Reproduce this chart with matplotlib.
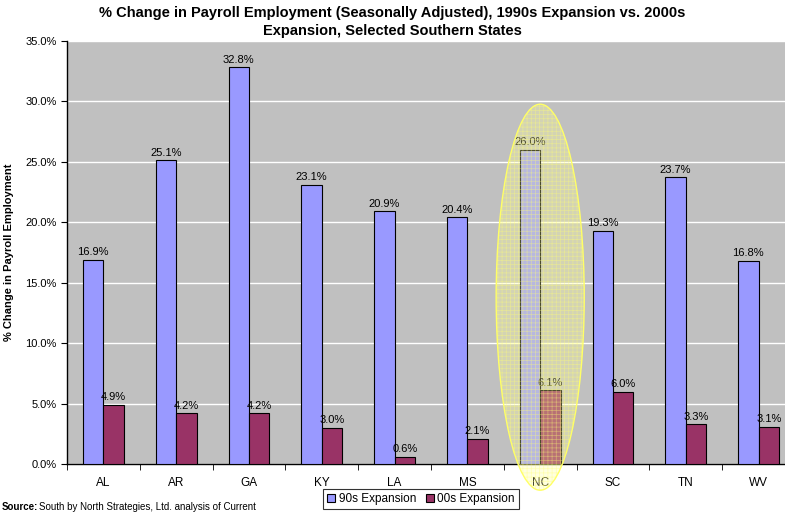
import matplotlib
matplotlib.use('Agg')
import matplotlib.pyplot as plt
import numpy as np
from matplotlib.patches import Ellipse
from matplotlib.ticker import FuncFormatter, MultipleLocator

states = ['AL', 'AR', 'GA', 'KY', 'LA', 'MS', 'NC', 'SC', 'TN', 'WV']
exp_90s = [16.9, 25.1, 32.8, 23.1, 20.9, 20.4, 26.0, 19.3, 23.7, 16.8]
exp_00s = [4.9, 4.2, 4.2, 3.0, 0.6, 2.1, 6.1, 6.0, 3.3, 3.1]
highlight = 'NC'

plt.rcParams['font.family'] = ['Liberation Sans', 'DejaVu Sans']
plt.rcParams['hatch.linewidth'] = 0.5

fig = plt.figure(figsize=(7.85, 5.13), dpi=100)
ax = fig.add_axes([0.0854, 0.0951, 0.9273, 0.8256])
ax.set_facecolor('#C0C0C0')

x = np.arange(len(states))
w = 0.28
b1 = ax.bar(x - w / 2, exp_90s, w, color='#9999FF', edgecolor='black', linewidth=0.8,
            label='90s Expansion', zorder=3)
b2 = ax.bar(x + w / 2, exp_00s, w, color='#993366', edgecolor='black', linewidth=0.8,
            label='00s Expansion', zorder=3)

for bars, vals in ((b1, exp_90s), (b2, exp_00s)):
    for r, v in zip(bars, vals):
        ax.annotate(f'{v:.1f}%', (r.get_x() + r.get_width() / 2, v), xytext=(0, 2),
                    textcoords='offset points', ha='center', va='bottom',
                    fontsize=8, zorder=5)

# highlight ellipse around NC: tint, hatch and outline as separate patches
i = states.index(highlight)
ec, ew, eh = (i, 13.8), 1.21, 31.9
ax.add_patch(Ellipse(ec, ew, eh, facecolor=(1, 1, 0.6, 0.3), edgecolor='none',
                     zorder=6, clip_on=False))
ax.add_patch(Ellipse(ec, ew, eh, facecolor='none', edgecolor=(1, 1, 0.45, 0.45),
                     hatch='++++', linewidth=0, zorder=6, clip_on=False))
ax.add_patch(Ellipse(ec, ew, eh, facecolor='none', edgecolor='#FFFF66',
                     linewidth=1, zorder=6, clip_on=False))

ax.set_xlim(-0.5, len(states) - 0.5)
ax.set_ylim(0, 35)
ax.yaxis.set_major_locator(MultipleLocator(5))
ax.yaxis.set_major_formatter(FuncFormatter(lambda v, p: f'{v:.1f}%'))
ax.grid(axis='y', color='white', linewidth=1, zorder=0)
ax.set_axisbelow(True)

ax.set_xticks(x)
ax.set_xticklabels(states, fontsize=8.5)
ax.set_xticks(np.arange(len(states) + 1) - 0.5, minor=True)
ax.tick_params(axis='x', which='major', length=0, pad=9)
ax.tick_params(axis='x', which='minor', length=4, direction='out')
ax.tick_params(axis='y', labelsize=8, length=4, direction='out')

for s in ('top', 'right'):
    ax.spines[s].set_visible(False)
ax.spines['left'].set_linewidth(1)
ax.spines['bottom'].set_linewidth(1)

ax.set_ylabel('% Change in Payroll Employment', fontsize=8, fontweight='bold', labelpad=8)

fig.suptitle('% Change in Payroll Employment (Seasonally Adjusted), 1990s Expansion vs. 2000s\n'
             'Expansion, Selected Southern States', x=0.5, y=0.988, fontsize=10.5,
             fontweight='bold', linespacing=1.35)

leg = fig.legend(handles=[b1, b2], loc='center', bbox_to_anchor=(421 / 785, 1 - 499 / 513),
                 ncol=2, fontsize=8.5, frameon=True, fancybox=False, edgecolor='black',
                 handlelength=0.7, handleheight=0.7, handletextpad=0.3, columnspacing=0.8,
                 borderpad=0.3, borderaxespad=0)
leg.get_frame().set_linewidth(0.8)

fig.text(2 / 785, 1 - 507 / 513, 'Source:', fontsize=7, fontweight='bold', va='center')
fig.text(39 / 785, 1 - 507 / 513, 'South by North Strategies, Ltd. analysis of Current',
         fontsize=7, va='center')

fig.savefig('out.png', dpi=100)
